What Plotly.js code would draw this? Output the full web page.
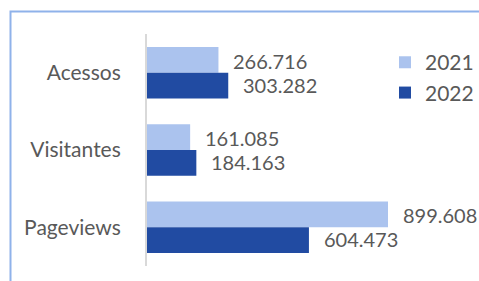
<!DOCTYPE html>
<html><head><meta charset="utf-8">
<script src="https://cdn.plot.ly/plotly-3.0.1.min.js"></script>
<style>html,body{margin:0;padding:0;background:#fff;}#chart{width:479px;height:281px;}</style>
</head><body><div id="chart"></div>
<script>
const categories = ['Acessos', 'Visitantes', 'Pageviews'];
const seriesNames = ['2021', '2022'];
const values2021 = [266716, 161085, 899608];
const values2022 = [303282, 184163, 604473];

const colors = ['#abc3ee', '#214ba2'];
const textColor = '#595959';
const fontFamily = 'Lato, "Open Sans", sans-serif';

function fmt(v) { return v.toString().replace(/\B(?=(\d{3})+(?!\d))/g, '.'); }

const series = [values2021, values2022];
const traces = series.map((vals, i) => ({
  type: 'bar', orientation: 'h', name: seriesNames[i],
  x: vals, y: categories,
  marker: {color: colors[i], line: {width: 0}},
  hoverinfo: 'none'
}));

const annotations = [];
series.forEach((vals, i) => {
  vals.forEach((v, j) => {
    annotations.push({
      x: v, y: categories[j], xref: 'x', yref: 'y',
      text: fmt(v), showarrow: false, xanchor: 'left', yanchor: 'middle',
      xshift: 13, yshift: i === 0 ? 12 : -12,
      font: {family: fontFamily, size: 20, color: textColor}
    });
  });
});

const layout = {
  width: 479, height: 281,
  margin: {l: 147, r: 0, t: 34, b: 15, pad: 0},
  paper_bgcolor: '#ffffff', plot_bgcolor: '#ffffff',
  barmode: 'group', bargap: 0.333, bargroupgap: 0,
  showlegend: true,
  legend: {x: 1, y: 0.965, xanchor: 'right', yanchor: 'top', traceorder: 'normal',
    font: {family: fontFamily, size: 21, color: textColor}, bgcolor: 'rgba(0,0,0,0)', itemwidth: 30,
    tracegroupgap: 0},
  xaxis: {range: [0, 1239300], showgrid: false, zeroline: false, showticklabels: false, showline: false, ticks: ''},
  yaxis: {type: 'category', categoryarray: categories, categoryorder: 'array', autorange: 'reversed',
    showgrid: false, zeroline: false, showline: true, linecolor: '#d9d9d9', linewidth: 2,
    ticks: '', ticklabelstandoff: 20,
    tickfont: {family: fontFamily, size: 21, color: textColor}},
  annotations: annotations,
  shapes: [{type: 'rect', xref: 'paper', yref: 'paper',
    x0: (10.5 - 147) / 332, x1: 2, y0: -1, y1: 1 + (34 - 11.5) / 232,
    line: {color: '#8fb2ea', width: 2}, fillcolor: 'rgba(0,0,0,0)', layer: 'below'}]
};

Plotly.newPlot('chart', traces, layout, {displayModeBar: false, staticPlot: true});
</script></body></html>
